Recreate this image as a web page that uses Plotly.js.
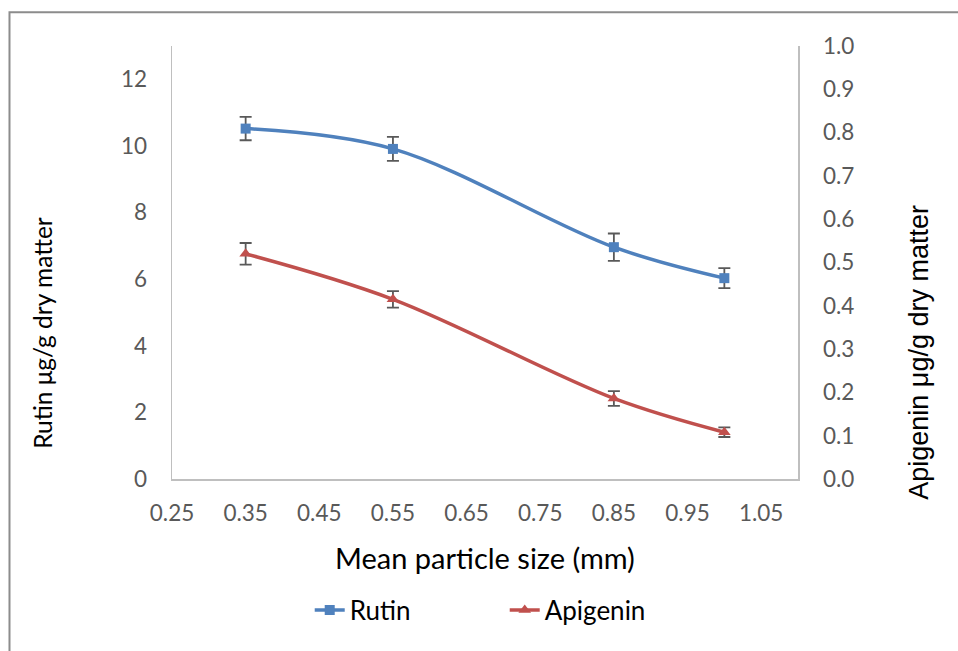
<!DOCTYPE html>
<html>
<head>
<meta charset="utf-8">
<script src="https://cdn.plot.ly/plotly-3.0.1.min.js"></script>
<style>html,body{margin:0;padding:0;background:#fff;}#chart{width:958px;height:651px;}</style>
</head>
<body>
<div id="chart"></div>
<script>
// Data
const particleSize = [0.35, 0.55, 0.85, 1.0];
const rutin = [10.52, 9.91, 6.96, 6.03];
const rutinErr = [0.35, 0.36, 0.41, 0.30];
const apigenin = [0.52, 0.415, 0.186, 0.108];
const apigeninErr = [0.025, 0.019, 0.017, 0.011];
const seriesNames = ["Rutin", "Apigenin"];
const xTitle = "Mean particle size (mm)";
const yTitle = "Rutin \u03bcg/g dry matter";
const y2Title = "Apigenin \u03bcg/g dry matter";

const FONT = "Lato, 'Open Sans', sans-serif";
const TICK = {family: FONT, size: 22.5, color: "#595959"};
const AXC = "#BFBFBF";

const traces = [
  {
    x: particleSize, y: rutin, name: seriesNames[0], type: "scatter", mode: "lines+markers",
    line: {color: "#4F81BD", width: 3.5, shape: "spline", smoothing: 1},
    marker: {symbol: "square", size: 10, color: "#4F81BD"},
    error_y: {type: "data", array: rutinErr, visible: true, color: "#595959", thickness: 1.8, width: 6},
    yaxis: "y"
  },
  {
    x: particleSize, y: apigenin, name: seriesNames[1], type: "scatter", mode: "lines+markers",
    line: {color: "#C0504D", width: 3.5, shape: "spline", smoothing: 1},
    marker: {symbol: "triangle-up", size: 11, color: "#C0504D"},
    error_y: {type: "data", array: apigeninErr, visible: true, color: "#595959", thickness: 1.8, width: 6},
    yaxis: "y2"
  }
];

const layout = {
  width: 958, height: 651,
  margin: {l: 172, r: 160, t: 46, b: 172, pad: 0},
  paper_bgcolor: "#fff", plot_bgcolor: "#fff",
  showlegend: true,
  font: {family: FONT},
  xaxis: {
    range: [0.25, 1.1], tickmode: "linear", tick0: 0.25, dtick: 0.1, tickformat: ".2f",
    showline: true, linecolor: AXC, linewidth: 1.5, showgrid: false, zeroline: false,
    ticks: "", tickfont: TICK, ticklabelstandoff: 13
  },
  yaxis: {
    range: [0, 13], tickmode: "linear", tick0: 0, dtick: 2,
    showline: true, linecolor: AXC, linewidth: 1.5, showgrid: false, zeroline: false,
    ticks: "", tickfont: TICK, ticklabelstandoff: 19
  },
  yaxis2: {
    range: [0, 1], tickmode: "linear", tick0: 0, dtick: 0.1, tickformat: ".1f",
    overlaying: "y", side: "right",
    showline: true, linecolor: AXC, linewidth: 1.5, showgrid: false, zeroline: false,
    ticks: "", tickfont: TICK, ticklabelstandoff: 19
  },
  legend: {
    orientation: "h", x: 0.22, xanchor: "left", y: -0.3025, yanchor: "middle",
    font: {family: FONT, size: 26, color: "#000"}, entrywidth: 150, bgcolor: "rgba(0,0,0,0)"
  },
  annotations: [
    {text: xTitle, xref: "paper", yref: "paper", x: 0.5, y: -0.182, xanchor: "center", yanchor: "middle",
     showarrow: false, font: {family: FONT, size: 29, color: "#000"}},
    {text: yTitle, xref: "paper", yref: "paper", x: -0.208, y: 0.337, xanchor: "center", yanchor: "middle",
     textangle: -90, showarrow: false, font: {family: FONT, size: 24.5, color: "#000"}},
    {text: y2Title, xref: "paper", yref: "paper", x: 1.192, y: 0.292, xanchor: "center", yanchor: "middle",
     textangle: -90, showarrow: false, font: {family: "'Liberation Sans', Arial, sans-serif", size: 27, color: "#000"}}
  ],
  shapes: [
    {type: "rect", xref: "paper", yref: "paper", x0: -0.2596, x1: 2, y0: -1, y1: 1.0777,
     line: {color: "#8C8C8C", width: 2}, fillcolor: "rgba(0,0,0,0)", layer: "below"}
  ]
};

Plotly.newPlot("chart", traces, layout, {displayModeBar: false, staticPlot: true});
</script>
</body>
</html>
